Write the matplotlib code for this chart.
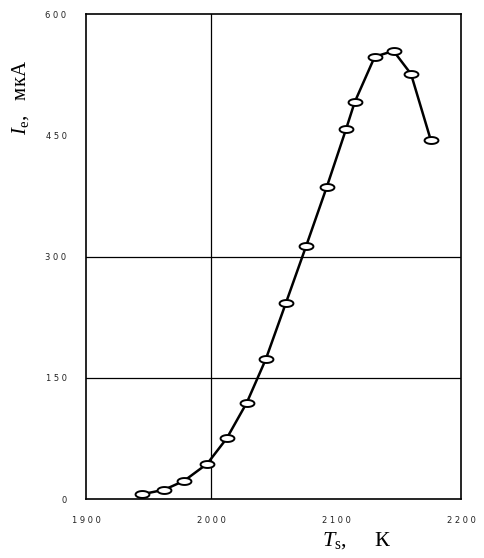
import matplotlib
matplotlib.use('Agg')
import matplotlib.pyplot as plt
from matplotlib.path import Path
import numpy as np

# Data
temp_K = [1944.6, 1962.6, 1978.6, 1997.0, 2012.6, 2028.6, 2043.8, 2060.0,
          2076.2, 2092.6, 2108.0, 2115.0, 2131.0, 2146.0, 2160.0, 2175.8]
current_uA = [5.8, 11.5, 22.6, 43.7, 75.1, 119.1, 172.8, 242.9,
              313.4, 386.0, 457.4, 491.2, 547.2, 554.3, 525.8, 444.1]

x_ticks = [1900, 2000, 2100, 2200]
x_ticklabels = ['1 9 0 0', '2 0 0 0', '2 1 0 0', '2 2 0 0']
y_ticks = [0, 150, 300, 450, 600]
y_ticklabels = ['0', '1 5 0', '3 0 0', '4 5 0', '6 0 0']
x_grid = [2000]
y_grid = [150, 300]

plt.rcParams['mathtext.fontset'] = 'custom'
plt.rcParams['mathtext.rm'] = 'Liberation Serif'
plt.rcParams['mathtext.it'] = 'Liberation Serif:italic'

fig = plt.figure(figsize=(4.84, 5.58), dpi=100)
fig.patch.set_facecolor('white')
ax = fig.add_axes([0.1777, 0.1057, 0.7748, 0.8692])

ax.set_xlim(1900, 2200)
ax.set_ylim(0, 600)

for gx in x_grid:
    ax.axvline(gx, color='black', lw=0.9, zorder=1)
for gy in y_grid:
    ax.axhline(gy, color='black', lw=0.9, zorder=1)

# flat open ellipse marker
t = np.linspace(0, 2 * np.pi, 40)
ellipse = Path(np.column_stack([np.cos(t), 0.5 * np.sin(t)]), closed=True)

ax.plot(temp_K, current_uA, color='black', lw=1.8, zorder=2,
        marker=ellipse, markersize=10, markerfacecolor='white',
        markeredgecolor='black', markeredgewidth=1.4)

ax.set_xticks(x_ticks)
ax.set_xticklabels(x_ticklabels)
ax.set_yticks(y_ticks)
ax.set_yticklabels(y_ticklabels)
ax.tick_params(length=0, labelsize=6, labelcolor='#222222')
ax.tick_params(axis='x', pad=12)
ax.tick_params(axis='y', pad=14)

for s in ax.spines.values():
    s.set_linewidth(1.2)
    s.set_color('black')

fig.text(0.737, 0.031, r'$T_{\rm s}$,     К', fontsize=16, family='Liberation Serif',
         ha='center', va='center')
fig.text(0.042, 0.826, r'$I_{\rm e}$,   мкА', fontsize=15, family='Liberation Serif',
         ha='center', va='center', rotation=90)

fig.savefig('out.png', dpi=100, facecolor='white')
